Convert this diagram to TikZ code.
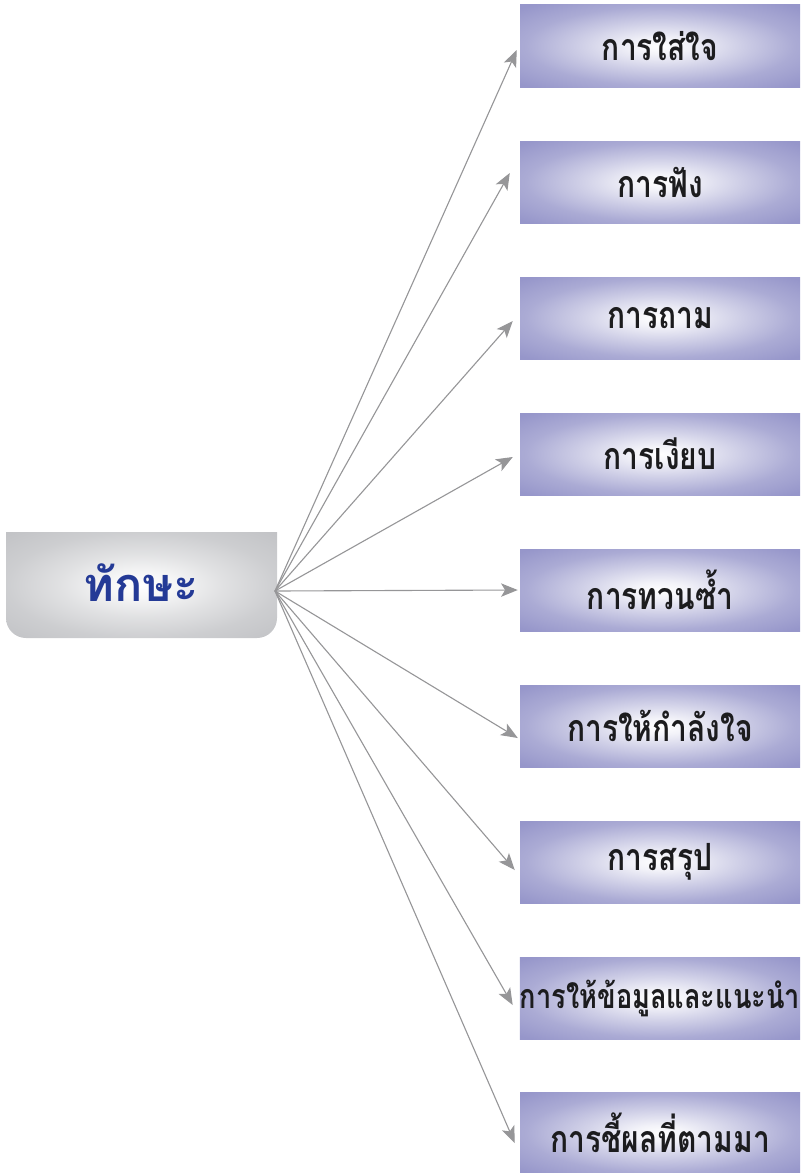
\documentclass[tikz,border=0pt]{standalone}
\usepackage{fontspec}
\newfontfamily\thaifont[Script=Thai]{Loma}
\newfontfamily\thaicond[Script=Thai,FakeStretch=0.8]{Loma}
\usetikzlibrary{calc,arrows.meta}
\definecolor{boxblue}{RGB}{150,150,202}
\definecolor{boxgray}{RGB}{194,195,198}
\definecolor{skillblue}{RGB}{36,58,150}
\definecolor{linkgray}{RGB}{150,150,152}
\definecolor{itemtext}{RGB}{28,28,30}
\pgfdeclareradialshading{glowblue}{\pgfpoint{0bp}{0bp}}{color(0bp)=(white); color(5bp)=(white!88!boxblue); color(14bp)=(white!55!boxblue); color(24bp)=(white!20!boxblue); color(34bp)=(boxblue); color(50bp)=(boxblue)}
\pgfdeclareradialshading{glowgray}{\pgfpoint{0bp}{0bp}}{color(0bp)=(white); color(6bp)=(white!85!boxgray); color(15bp)=(white!50!boxgray); color(25bp)=(white!18!boxgray); color(35bp)=(boxgray); color(50bp)=(boxgray)}
\tikzset{
  itembox/.style={rectangle, shading=glowblue, minimum width=8.4cm, minimum height=2.46cm,
    inner sep=0pt, text=itemtext, font=\thaicond\bfseries\fontsize{32}{32}\selectfont},
  link/.style={draw=linkgray, line width=0.95pt, -{Stealth[length=0.5cm,width=0.4cm,inset=0.12cm]}}
}

\begin{document}
\begin{tikzpicture}[x=0.03cm, y=-0.03cm]
	\useasboundingbox (0,0) rectangle (800,1173);
	
	%%%%%%%%%% caixa da esquerda %%%%%%%%%%
	\begin{scope}
		\clip[rounded corners=0.6cm] (6,490) rectangle (277,638);
		\shade[shading=glowgray] (6,532) rectangle (277,638);
	\end{scope}
	\node[text=skillblue, font=\thaifont\bfseries\fontsize{40}{40}\selectfont] (skill) at (141,583) {ทักษะ};
	\coordinate (src) at (275,591);
	
	%%%%%%%%%% caixas da direita %%%%%%%%%%
	\node[itembox] (b1) at (660,46) {การใส่ใจ};
	\node[itembox] (b2) at (660,182) {การฟัง};
	\node[itembox] (b3) at (660,318) {การถาม};
	\node[itembox] (b4) at (660,454) {การเงียบ};
	\node[itembox] (b5) at (660,590) {การทวนซ้ำ};
	\node[itembox] (b6) at (660,726) {การให้กำลังใจ};
	\node[itembox] (b7) at (660,862) {การสรุป};
	\node[itembox, font=\thaicond\bfseries\fontsize{29}{29}\selectfont] (b8) at (660,998) {การให้ข้อมูลและแนะนำ};
	\node[itembox] (b9) at (660,1133) {การชี้ผลที่ตามมา};
	
	%%%%%%%%%% setas %%%%%%%%%%
	\draw[link] (src) -- ($(b1.west)+(-3,4)$);
	\draw[link] (src) -- ($(b2.west)+(-10,-9)$);
	\draw[link] (src) -- ($(b3.west)+(-7,3)$);
	\draw[link] (src) -- ($(b4.west)+(-7,3)$);
	\draw[link] (src) -- ($(b5.west)+(-2,0)$);
	\draw[link] (src) -- ($(b6.west)+(-2,12)$);
	\draw[link] (src) -- ($(b7.west)+(-5,8)$);
	\draw[link] (src) -- ($(b8.west)+(-7,7)$);
	\draw[link] (src) -- ($(b9.west)+(-5,10)$);
\end{tikzpicture}
\end{document}
